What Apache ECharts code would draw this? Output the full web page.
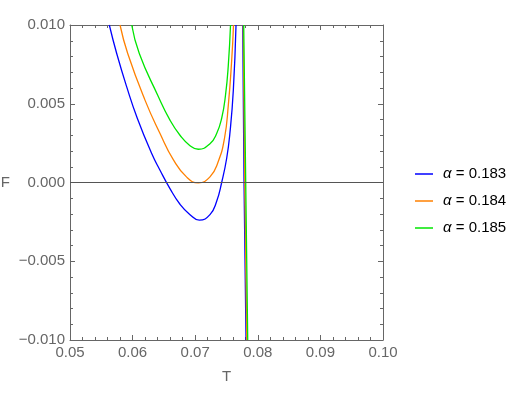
<!DOCTYPE html>
<html><head><meta charset="utf-8">
<script src="https://cdn.jsdelivr.net/npm/echarts@6/dist/echarts.min.js"></script>
<style>html,body{margin:0;padding:0;background:#fff}#c{width:519px;height:402px}</style>
</head><body><div id="c"></div>
<script>
// ---- data ----
const xTicks = [0.05, 0.06, 0.07, 0.08, 0.09, 0.10];
const yTicks = [-0.010, -0.005, 0.000, 0.005, 0.010];
const seriesNames = ['α = 0.183', 'α = 0.184', 'α = 0.185'];
const seriesColors = ['#0000ff', '#ff8000', '#00e600'];

// main (smooth) branch of each curve
const blueT = [0.05628, 0.05746, 0.05906, 0.06075, 0.06305, 0.06438, 0.06597, 0.06757, 0.06917, 0.07065, 0.07236, 0.07343, 0.07423, 0.07503, 0.07556, 0.07609, 0.07652];
const blueF = [0.0100, 0.00819, 0.00607, 0.00408, 0.00184, 0.00078, -0.00039, -0.00138, -0.00204, -0.00239, -0.00204, -0.00119, 0.0000, 0.00154, 0.00319, 0.00586, 0.0100];
const orangeT = [0.05799, 0.05922, 0.06198, 0.06438, 0.06650, 0.06864, 0.07050, 0.07236, 0.07364, 0.07468, 0.07529, 0.07583, 0.07612];
const orangeF = [0.0100, 0.00819, 0.00523, 0.00311, 0.00145, 0.00034, -0.00002, 0.00036, 0.00129, 0.00281, 0.00491, 0.00777, 0.0100];
const greenT = [0.05986, 0.06107, 0.06401, 0.06597, 0.06757, 0.06917, 0.07050, 0.07236, 0.07343, 0.07423, 0.07484, 0.07529, 0.07564];
const greenF = [0.0100, 0.00819, 0.00554, 0.00396, 0.0030, 0.00234, 0.00211, 0.00246, 0.00311, 0.00408, 0.00554, 0.00745, 0.0100];

// steep descending branch of each curve
const blueT2 = [0.07759, 0.07780, 0.07812];
const blueF2 = [0.0100, 0.0000, -0.0100];
const orangeT2 = [0.07767, 0.07792, 0.07824];
const orangeF2 = [0.0100, 0.0000, -0.0100];
const greenT2 = [0.07775, 0.07807, 0.07839];
const greenF2 = [0.0100, 0.0000, -0.0100];

// ---- chart ----
const FONT = '"Liberation Sans", Arial, sans-serif';
const GRAY = '#666666';
const zip = (a, b) => a.map((v, i) => [v, b[i]]);
const mainT = [blueT, orangeT, greenT], mainF = [blueF, orangeF, greenF];
const stT = [blueT2, orangeT2, greenT2], stF = [blueF2, orangeF2, greenF2];

const series = [{
  type: 'line', data: [], silent: true, z: 1,
  markLine: { silent: true, symbol: ['none', 'none'], label: { show: false },
    lineStyle: { color: '#555', width: 1, type: 'solid' }, data: [{ yAxis: 0 }], animation: false }
}];
for (let i = 0; i < 3; i++) {
  series.push({
    name: seriesNames[i], type: 'line', data: zip(mainT[i], mainF[i]),
    smooth: 0.5, showSymbol: false, clip: true, z: 2 + i,
    lineStyle: { color: seriesColors[i], width: 1.3 }, itemStyle: { color: seriesColors[i] },
    emphasis: { disabled: true }
  });
  series.push({
    name: seriesNames[i], type: 'line', data: zip(stT[i], stF[i]),
    showSymbol: false, clip: true, z: 2 + i,
    lineStyle: { color: seriesColors[i], width: 1.3 }, itemStyle: { color: seriesColors[i] },
    emphasis: { disabled: true }
  });
}

const axisCommon = {
  type: 'value', splitLine: { show: false },
  axisLine: { show: true, onZero: false, lineStyle: { color: GRAY, width: 1 } },
  axisTick: { show: true, inside: true, length: 5, lineStyle: { color: GRAY } },
  minorTick: { show: true, inside: true, splitNumber: 5, length: 3, lineStyle: { color: GRAY } }
};
const xFmt = v => v.toFixed(2);
const yFmt = v => (v < -1e-9 ? '\u2212' : '') + Math.abs(v).toFixed(3);

const option = {
  animation: false,
  backgroundColor: '#fff',
  grid: { left: 70, right: 136, top: 25, bottom: 62, containLabel: false, outerBoundsMode: 'none' },
  xAxis: [
    Object.assign({}, axisCommon, {
      position: 'bottom', min: xTicks[0], max: xTicks[xTicks.length - 1], interval: 0.01,
      name: 'T', nameLocation: 'middle', nameGap: 29,
      nameTextStyle: { color: GRAY, fontSize: 15, fontFamily: FONT },
      axisLabel: { color: GRAY, fontSize: 15, fontFamily: FONT, margin: 5, formatter: xFmt }
    }),
    Object.assign({}, axisCommon, {
      position: 'top', min: xTicks[0], max: xTicks[xTicks.length - 1], interval: 0.01,
      axisLabel: { show: false }
    })
  ],
  yAxis: [
    Object.assign({}, axisCommon, {
      position: 'left', min: yTicks[0], max: yTicks[yTicks.length - 1], interval: 0.005,
      name: 'F', nameLocation: 'middle', nameGap: 60, nameRotate: 0,
      nameTextStyle: { color: GRAY, fontSize: 15, fontFamily: FONT },
      axisLabel: { color: GRAY, fontSize: 15, fontFamily: FONT, margin: 5, formatter: yFmt }
    }),
    Object.assign({}, axisCommon, {
      position: 'right', min: yTicks[0], max: yTicks[yTicks.length - 1], interval: 0.005,
      axisLabel: { show: false }
    })
  ],
  legend: {
    data: seriesNames, orient: 'vertical', left: 410, top: 161,
    icon: 'rect', itemWidth: 18, itemHeight: 1.5, itemGap: 11, selectedMode: false,
    textStyle: { fontSize: 15, color: '#000', fontFamily: FONT, lineHeight: 16,
      rich: { s: { width: 5 }, i: { fontStyle: 'italic', fontSize: 15, color: '#000', fontFamily: FONT } } },
    formatter: n => '{s|}{i|α} = ' + n.split('= ')[1]
  },
  series: series
};
const chart = echarts.init(document.getElementById('c'), null, { renderer: 'canvas' });
chart.setOption(option);
</script></body></html>
